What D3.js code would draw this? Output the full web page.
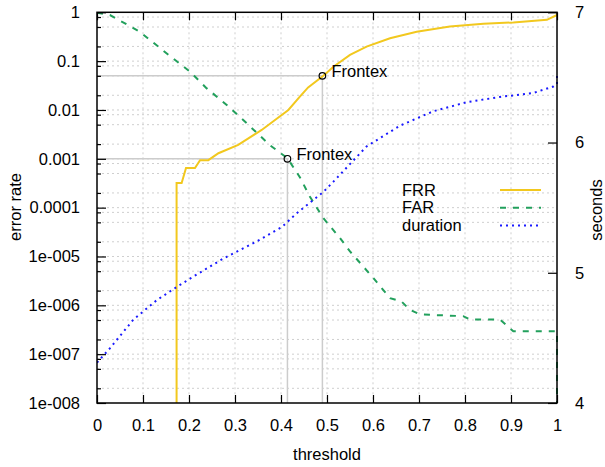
<!DOCTYPE html>
<html><head><meta charset="utf-8">
<script src="https://cdn.jsdelivr.net/npm/d3@7"></script>
<style>body{margin:0;background:#fff}svg{display:block}text{font-family:"Liberation Sans",Arial,sans-serif;font-size:16.5px;fill:#000}</style>
</head><body><svg id="c" width="605" height="467"></svg>
<script>
// threshold values and error rates
const frrThreshold = [0.173,0.173,0.184,0.1935,0.213,0.224,0.242,0.264,0.307,0.358,0.416,0.441,0.459,0.492,0.514,0.55,0.586,0.637,0.695,0.767,0.84,0.905,0.978,1.0,1.0];
const frrRate = [1e-8,3.2e-4,3.2e-4,6.5e-4,6.5e-4,9.4e-4,9.4e-4,1.3e-3,1.93e-3,3.9e-3,0.01,0.0188,0.029,0.05,0.077,0.134,0.198,0.294,0.40,0.51,0.58,0.62,0.70,0.88,0.96];
const farThreshold = [0,0.028,0.093,0.151,0.202,0.238,0.282,0.325,0.376,0.414,0.441,0.463,0.492,0.528,0.55,0.601,0.637,0.662,0.68,0.702,0.796,0.811,0.876,0.891,0.905,1.0,1.0];
const farRate = [0.98,0.88,0.40,0.145,0.061,0.028,0.0127,0.0054,0.0019,0.00103,4.2e-4,1.67e-4,6.1e-5,2.4e-5,1.27e-5,3.6e-6,1.4e-6,1.2e-6,8.1e-7,6.5e-7,6.0e-7,5.1e-7,5.1e-7,3.85e-7,2.95e-7,2.95e-7,1e-8];
const durThreshold = [0,0.028,0.079,0.13,0.173,0.209,0.275,0.347,0.4015,0.434,0.492,0.514,0.586,0.659,0.731,0.804,0.876,0.948,0.992,1.0,1.0];
const durSeconds = [4.31,4.42,4.64,4.79,4.89,4.97,5.11,5.24,5.35,5.456,5.62,5.70,5.97,6.13,6.24,6.31,6.35,6.38,6.43,6.45,6.53];
const frontexThreshold = [0.49,0.414];
const frontexRate = [0.05,0.001];
const frontexLabel = ["Frontex","Frontex"];
const xTicks = [0,0.1,0.2,0.3,0.4,0.5,0.6,0.7,0.8,0.9,1];
const xTickLabels = ["0","0.1","0.2","0.3","0.4","0.5","0.6","0.7","0.8","0.9","1"];
const yTicks = [1,0.1,0.01,0.001,1e-4,1e-5,1e-6,1e-7,1e-8];
const yTickLabels = ["1","0.1","0.01","0.001","0.0001","1e-005","1e-006","1e-007","1e-008"];
const yMinorMult = [2,5,8];
const y2Ticks = [4,5,6,7];
const seriesNames = ["FRR","FAR","duration"];

const L=97,R=557,T=12.3,B=403;
const svg=d3.select("#c");
const x=d3.scaleLinear().domain([0,1]).range([L,R]);
const y=d3.scaleLog().domain([1e-8,1]).range([B,T]);
const y2=d3.scaleLinear().domain([4,7]).range([B,T]);

const minor=[];
yTicks.slice(1).forEach(d=>yMinorMult.forEach(m=>{const v=d*m; if(v<1) minor.push(v);}));

// grid
const grid=svg.append("g").attr("stroke","#cfcfcf").attr("stroke-width",1).attr("stroke-dasharray","2,3");
grid.selectAll(".gx").data(xTicks.slice(1,-1)).join("line").attr("x1",d=>x(d)).attr("x2",d=>x(d)).attr("y1",T).attr("y2",B);
grid.selectAll(".gy").data(yTicks.slice(1,-1).concat(minor)).join("line").attr("y1",d=>y(d)).attr("y2",d=>y(d)).attr("x1",L).attr("x2",R);

// Frontex reference lines
const ref=svg.append("g").attr("stroke","#cccccc").attr("stroke-width",1.5);
frontexThreshold.forEach((t,i)=>{
  ref.append("line").attr("x1",L).attr("x2",x(t)).attr("y1",y(frontexRate[i])).attr("y2",y(frontexRate[i]));
  ref.append("line").attr("x1",x(t)).attr("x2",x(t)).attr("y1",y(frontexRate[i])).attr("y2",B);
});

// clip
svg.append("clipPath").attr("id","pc").append("rect").attr("x",L).attr("y",T).attr("width",R-L+1).attr("height",B-T);
const plot=svg.append("g").attr("clip-path","url(#pc)");

const styles=[
  {color:"#f2c81e",dash:null},
  {color:"#22a05c",dash:"6,7"},
  {color:"#1a1aff",dash:"2,4"}
];
const lineLog=d3.line().x(d=>x(d[0])).y(d=>y(d[1]));
const lineSec=d3.line().x(d=>x(d[0])).y(d=>y2(d[1]));
plot.append("path").attr("d",lineLog(d3.zip(frrThreshold,frrRate))).attr("fill","none").attr("stroke",styles[0].color).attr("stroke-width",2);
plot.append("path").attr("d",lineLog(d3.zip(farThreshold,farRate))).attr("fill","none").attr("stroke",styles[1].color).attr("stroke-width",2).attr("stroke-dasharray",styles[1].dash);
plot.append("path").attr("d",lineSec(d3.zip(durThreshold,durSeconds))).attr("fill","none").attr("stroke",styles[2].color).attr("stroke-width",2).attr("stroke-dasharray",styles[2].dash);

// Frontex markers
frontexThreshold.forEach((t,i)=>{
  svg.append("circle").attr("cx",x(t)).attr("cy",y(frontexRate[i])).attr("r",3.3).attr("fill","none").attr("stroke","#000").attr("stroke-width",1.2);
  svg.append("text").attr("x",x(t)+9).attr("y",y(frontexRate[i])-5).attr("dy","0.35em").text(frontexLabel[i]);
});

// border
svg.append("rect").attr("x",L).attr("y",T).attr("width",R-L).attr("height",B-T).attr("fill","none").attr("stroke","#000").attr("stroke-width",1.5);

// axes via d3
const xb=svg.append("g").attr("transform",`translate(0,${B})`).call(d3.axisBottom(x).tickValues(xTicks).tickFormat((d,i)=>xTickLabels[i]).tickSizeInner(-8).tickSizeOuter(0).tickPadding(16));
const xt=svg.append("g").attr("transform",`translate(0,${T})`).call(d3.axisTop(x).tickValues(xTicks).tickFormat("").tickSizeInner(-8).tickSizeOuter(0));
const yl=svg.append("g").attr("transform",`translate(${L},0)`).call(d3.axisLeft(y).tickValues(yTicks).tickFormat((d,i)=>yTickLabels[i]).tickSizeInner(-9).tickSizeOuter(0).tickPadding(17));
const ym=svg.append("g").attr("transform",`translate(${L},0)`).call(d3.axisLeft(y).tickValues(minor).tickFormat("").tickSizeInner(-4).tickSizeOuter(0));
const yr=svg.append("g").attr("transform",`translate(${R},0)`).call(d3.axisRight(y2).tickValues(y2Ticks).tickFormat(d3.format("d")).tickSizeInner(-9).tickSizeOuter(0).tickPadding(18));
[xb,xt,yl,ym,yr].forEach(g=>{
  g.select(".domain").remove();
  g.selectAll("line").attr("stroke","#000").attr("stroke-width",1.2);
  g.selectAll("text").attr("font-family",null).attr("font-size",null).attr("fill","#000");
});

// axis titles
svg.append("text").attr("x",327).attr("y",460).attr("text-anchor","middle").text("threshold");
svg.append("text").attr("transform","translate(21,207) rotate(-90)").attr("text-anchor","middle").text("error rate");
svg.append("text").attr("transform","translate(602,210) rotate(-90)").attr("text-anchor","middle").text("seconds");

// legend
const lg=svg.append("g");
seriesNames.forEach((n,i)=>{
  const yy=190+i*17.7;
  lg.append("text").attr("x",402).attr("y",yy).attr("dy","0.35em").text(n);
  const l=lg.append("line").attr("x1",500).attr("x2",541).attr("y1",yy).attr("y2",yy).attr("stroke",styles[i].color).attr("stroke-width",2);
  if(styles[i].dash) l.attr("stroke-dasharray",styles[i].dash);
});
</script></body></html>
